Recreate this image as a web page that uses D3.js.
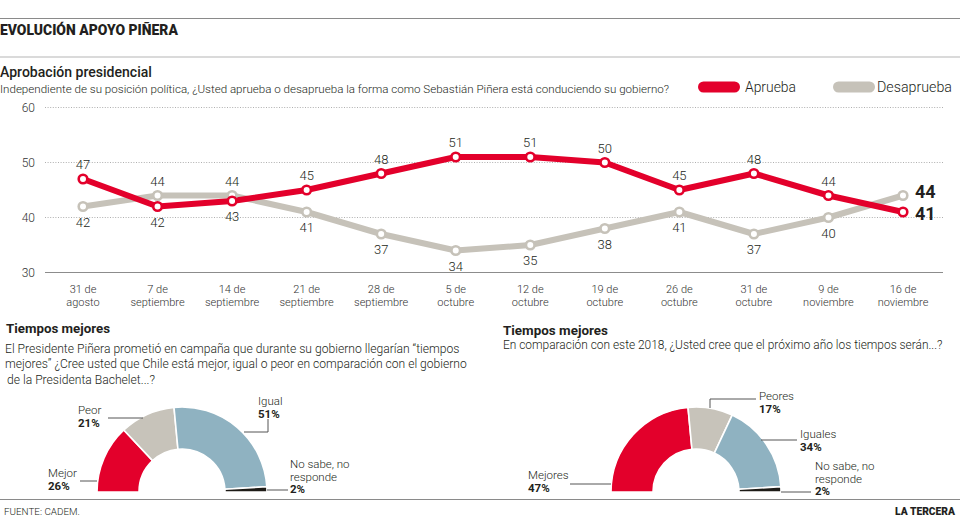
<!DOCTYPE html>
<html><head><meta charset="utf-8">
<script src="https://cdn.jsdelivr.net/npm/d3@7"></script>
<style>
html,body{margin:0;padding:0;background:#fff;}
svg{display:block;font-family:Roboto,"Noto Sans",sans-serif;}
</style></head>
<body>
<svg id="c" width="960" height="527"></svg>
<script>
// ---------- DATA ----------
const dateTop = ["31 de","7 de","14 de","21 de","28 de","5 de","12 de","19 de","26 de","31 de","9 de","16 de"];
const dateBottom = ["agosto","septiembre","septiembre","septiembre","septiembre","octubre","octubre","octubre","octubre","octubre","noviembre","noviembre"];
const aprueba = [47,42,43,45,48,51,51,50,45,48,44,41];
const desaprueba = [42,44,44,41,37,34,35,38,41,37,40,44];
const yTicks = [30,40,50,60];

const pie1Labels = ["Mejor","Peor","Igual","No sabe, no responde"];
const pie1Values = [26,21,51,2];
const pie2Labels = ["Mejores","Peores","Iguales","No sabe, no responde"];
const pie2Values = [47,17,34,2];

// ---------- STYLE ----------
const RED = "#e3002b", GRAY = "#c6c2b9", BLUE = "#8fb2c1", BLACK = "#1e1b17";
const sliceColors = [RED, "#c7c3ba", BLUE, BLACK];
const TXT = "#231f20";

const svg = d3.select("#c");

// text helper: optional target width -> font size scaled so natural width matches
function txt(x, y, s, o = {}) {
  const size = o.size || 12;
  const t = svg.append("text").attr("x", x).attr("y", y).text(s)
    .attr("font-size", size).attr("font-weight", o.weight || 300)
    .attr("fill", o.fill || TXT).attr("text-anchor", o.anchor || "start");
  if (o.len) {
    const w = t.node().getComputedTextLength();
    if (w > 0) t.attr("font-size", (size * o.len / w).toFixed(2));
  }
  return t;
}

// ---------- FRAME ----------
svg.append("line").attr("x1",0).attr("x2",960).attr("y1",18.5).attr("y2",18.5).attr("stroke","#8a8a8a").attr("stroke-width",1.2);
svg.append("line").attr("x1",0).attr("x2",960).attr("y1",57).attr("y2",57).attr("stroke","#b5b5b5").attr("stroke-width",1.2);
svg.append("line").attr("x1",0).attr("x2",960).attr("y1",499.5).attr("y2",499.5).attr("stroke","#8a8a8a").attr("stroke-width",1.2);

txt(0, 35, "EVOLUCIÓN APOYO PIÑERA", {size:13.5, weight:900, len:178});
txt(0, 77, "Aprobación presidencial", {size:14, weight:500, len:152});
txt(0, 93, "Independiente de su posición política, ¿Usted aprueba o desaprueba la forma como Sebastián Piñera está conduciendo su gobierno?", {size:11.5, weight:300, len:670});

// legend
const legend = [["Aprueba", RED, 698, 745, 51], ["Desaprueba", GRAY, 833, 877, 75]];
legend.forEach(([name, col, px, tx, w]) => {
  svg.append("rect").attr("x", px).attr("y", 81.5).attr("width", 42).attr("height", 11).attr("rx", 5.5).attr("fill", col);
  txt(tx, 92, name, {size:13, weight:300, len:w});
});

// ---------- LINE CHART ----------
const x = d3.scalePoint().domain(d3.range(dateTop.length)).range([83, 903]);
const y = d3.scaleLinear().domain([30, 60]).range([272.5, 107.5]);

svg.append("g").selectAll("line").data(yTicks.filter(t => t > 30)).join("line")
  .attr("x1", 45).attr("x2", 943).attr("y1", d => y(d)).attr("y2", d => y(d))
  .attr("stroke", "#9a9a9a").attr("stroke-width", 0.8).attr("stroke-dasharray", "1,1.6");
svg.append("line").attr("x1", 45).attr("x2", 943).attr("y1", y(30)).attr("y2", y(30))
  .attr("stroke", "#8c8c8c").attr("stroke-width", 1.1);

const yAxis = d3.axisLeft(y).tickValues(yTicks).tickSize(0).tickPadding(0);
const gy = svg.append("g").attr("transform", "translate(35,0)").call(yAxis);
gy.select(".domain").remove();
gy.selectAll("text").attr("font-size", 12).attr("font-weight", 300).attr("fill", "#333")
  .attr("font-family", "Roboto, sans-serif").attr("dy", "0.35em");

const gx = svg.append("g");
dateTop.forEach((d, i) => {
  const t = gx.append("text").attr("x", x(i)).attr("y", 293).attr("text-anchor", "middle")
    .attr("font-size", 11).attr("font-weight", 300).attr("fill", "#333");
  t.append("tspan").attr("x", x(i)).text(d);
  t.append("tspan").attr("x", x(i)).attr("dy", 12.5).text(dateBottom[i]);
});

const line = d3.line().x((d, i) => x(i)).y(d => y(d));
svg.append("path").datum(desaprueba).attr("d", line).attr("fill", "none")
  .attr("stroke", GRAY).attr("stroke-width", 6).attr("stroke-linejoin", "round");
svg.append("path").datum(aprueba).attr("d", line).attr("fill", "none")
  .attr("stroke", RED).attr("stroke-width", 6).attr("stroke-linejoin", "round");

svg.append("g").selectAll("circle").data(desaprueba).join("circle")
  .attr("cx", (d, i) => x(i)).attr("cy", d => y(d)).attr("r", 4.3)
  .attr("fill", "#fff").attr("stroke", GRAY).attr("stroke-width", 2.6);
svg.append("g").selectAll("circle").data(aprueba).join("circle")
  .attr("cx", (d, i) => x(i)).attr("cy", d => y(d)).attr("r", 4.3)
  .attr("fill", "#fff").attr("stroke", RED).attr("stroke-width", 2.6);

const n = aprueba.length;
aprueba.forEach((v, i) => {
  if (i === n - 1) return;
  const above = v >= desaprueba[i];
  txt(x(i), above ? y(v) - 10 : y(v) + 20, v, {size:13, weight:300, anchor:"middle"});
});
desaprueba.forEach((v, i) => {
  if (i === n - 1) return;
  const above = v > aprueba[i];
  txt(x(i), above ? y(v) - 10 : y(v) + 20, v, {size:13, weight:300, anchor:"middle"});
});
txt(x(n - 1) + 12, y(desaprueba[n - 1]) + 2, desaprueba[n - 1], {size:18, weight:700});
txt(x(n - 1) + 12, y(aprueba[n - 1]) + 8, aprueba[n - 1], {size:18, weight:700});

// ---------- DONUTS ----------
txt(6, 333, "Tiempos mejores", {size:14, weight:700, len:104});
txt(5, 353, "El Presidente Piñera prometió en campaña que durante su gobierno llegarían “tiempos", {size:12.5, weight:300, len:455});
txt(5, 368, "mejores” ¿Cree usted que Chile está mejor, igual o peor en comparación con el gobierno", {size:12.5, weight:300, len:462});
txt(7, 384, "de la Presidenta Bachelet...?", {size:12.5, weight:300, len:148});

txt(503, 335, "Tiempos mejores", {size:14, weight:700, len:105});
txt(503, 349, "En comparación con este 2018, ¿Usted cree que el próximo año los tiempos serán...?", {size:12.5, weight:300, len:440});

const pie = d3.pie().sort(null).value(d => d).startAngle(-Math.PI / 2).endAngle(Math.PI / 2);
const arc = d3.arc().innerRadius(43).outerRadius(85);

function donut(cx, cy, labels, values, layout) {
  const g = svg.append("g").attr("transform", `translate(${cx},${cy})`);
  g.selectAll("path").data(pie(values)).join("path")
    .attr("d", arc).attr("fill", (d, i) => sliceColors[i])
    .attr("stroke", "#fff").attr("stroke-width", 1.6);
  layout.forEach((L, i) => {
    g.append("polyline").attr("points", L.line.map(p => p.join(",")).join(" "))
      .attr("fill", "none").attr("stroke", "#555").attr("stroke-width", 1);
    const words = i === 3 ? ["No sabe, no", "responde"] : [labels[i]];
    words.forEach((w, k) => {
      g.append("text").attr("x", L.tx).attr("y", L.ty + k * 12.5)
        .attr("font-size", 11.5).attr("font-weight", 300).attr("fill", TXT).text(w);
    });
    g.append("text").attr("x", L.tx).attr("y", L.ty + words.length * 12.5)
      .attr("font-size", 11.5).attr("font-weight", 700).attr("fill", TXT).text(values[i] + "%");
  });
}

donut(182, 492, pie1Labels, pie1Values, [
  {tx:-134, ty:-15, line:[[-102,-11],[-85,-11]]},
  {tx:-104, ty:-78, line:[[-74,-74],[-39,-74]]},
  {tx:76, ty:-87, line:[[86,-73],[86,-60],[62,-60]]},
  {tx:108, ty:-24, line:[[85,-2],[106,-2]]}
]);
donut(696, 492, pie2Labels, pie2Values, [
  {tx:-168, ty:-13, line:[[-126,-8],[-85,-8]]},
  {tx:63, ty:-92, line:[[14,-84],[14,-93],[60,-93]]},
  {tx:104, ty:-54, line:[[65,-52],[101,-52]]},
  {tx:119, ty:-22, line:[[85,0],[115,0]]}
]);

// footer
txt(4, 515, "FUENTE: CADEM.", {size:11, weight:300, len:76});
txt(955, 515, "LA TERCERA", {size:11.5, weight:900, anchor:"end", len:60});
</script>
</body></html>
